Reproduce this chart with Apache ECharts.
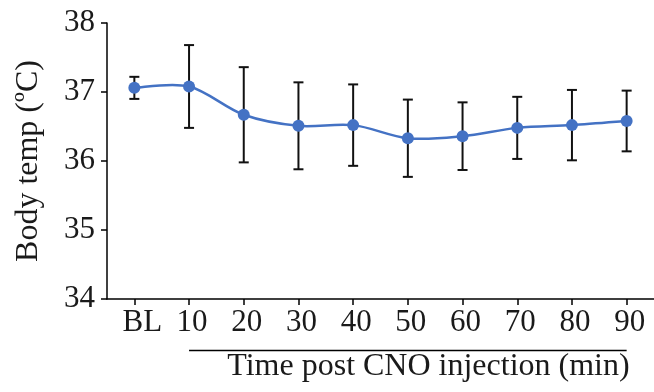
<!DOCTYPE html>
<html>
<head>
<meta charset="utf-8">
<script src="https://cdn.jsdelivr.net/npm/echarts@6/dist/echarts.min.js"></script>
<style>
html,body{margin:0;padding:0;background:#fff;}
#chart{width:654px;height:392px;}
</style>
</head>
<body>
<div id="chart"></div>
<script>
// ---- data ----
const categories = ['BL', '10', '20', '30', '40', '50', '60', '70', '80', '90'];
const meanTemp = [37.06, 37.08, 36.67, 36.51, 36.52, 36.33, 36.36, 36.48, 36.52, 36.58];
const errTemp  = [0.16, 0.60, 0.69, 0.63, 0.59, 0.56, 0.49, 0.45, 0.51, 0.44];
const yTicks = [34, 35, 36, 37, 38];
const yTitle = 'Body temp (\u00BAC)';
const xTitle = 'Time post CNO injection (min)';
const bracketFrom = '10';
const bracketTo = '90';

const FONT = "'Liberation Serif', 'Times New Roman', serif";
const TXT = '#1a1a1a';
const BLUE = '#4472C4';

const chart = echarts.init(document.getElementById('chart'), null, {renderer: 'canvas'});

const errData = categories.map((c, i) => [i, meanTemp[i] - errTemp[i], meanTemp[i] + errTemp[i]]);
const segData = categories.slice(0, -1).map((c, i) => [i, meanTemp[i]]);

const option = {
  animation: false,
  backgroundColor: '#ffffff',
  grid: {left: 107, top: 23, width: 550, bottom: 93, containLabel: false},
  xAxis: {
    type: 'category',
    data: categories,
    boundaryGap: true,
    axisLine: {show: true, lineStyle: {color: '#000', width: 1.5}},
    axisTick: {show: true, alignWithLabel: true, interval: 0, length: 6, lineStyle: {color: '#000', width: 1.5}},
    axisLabel: {
      interval: 0,
      margin: 8,
      fontFamily: FONT, fontSize: 31, color: TXT,
      formatter: v => v === 'BL' ? '{b|' + v + '}' : '{a|' + v + '}',
      rich: {
        a: {fontFamily: FONT, fontSize: 31, color: TXT, padding: [0, 0, 0, 6]},
        b: {fontFamily: FONT, fontSize: 31, color: TXT, padding: [0, 0, 0, 16]}
      }
    },
    splitLine: {show: false}
  },
  yAxis: {
    type: 'value',
    min: yTicks[0], max: yTicks[yTicks.length - 1], interval: 1,
    name: yTitle,
    nameLocation: 'middle',
    nameGap: 62,
    nameRotate: 90,
    nameTextStyle: {fontFamily: FONT, fontSize: 32, color: TXT},
    axisLine: {show: true, lineStyle: {color: '#000', width: 1.5}},
    axisTick: {show: true, length: 6, lineStyle: {color: '#000', width: 1.5}},
    axisLabel: {margin: 12, fontFamily: FONT, fontSize: 31, color: TXT},
    splitLine: {show: false}
  },
  series: [
    {
      type: 'custom',
      z: 2,
      data: errData,
      renderItem: function (params, api) {
        const x = api.value(0);
        const lo = api.coord([x, api.value(1)]);
        const hi = api.coord([x, api.value(2)]);
        const hw = 5;
        const st = {stroke: '#111', lineWidth: 2};
        return {
          type: 'group',
          children: [
            {type: 'line', shape: {x1: hi[0], y1: hi[1], x2: lo[0], y2: lo[1]}, style: st},
            {type: 'line', shape: {x1: hi[0] - hw, y1: hi[1], x2: hi[0] + hw, y2: hi[1]}, style: st},
            {type: 'line', shape: {x1: lo[0] - hw, y1: lo[1], x2: lo[0] + hw, y2: lo[1]}, style: st}
          ]
        };
      }
    },
    {
      // smoothed connecting curve (Catmull-Rom style, like spreadsheet smoothing)
      type: 'custom',
      z: 3,
      data: segData,
      renderItem: function (params, api) {
        const n = meanTemp.length;
        const i = api.value(0);
        const pt = j => api.coord([Math.max(0, Math.min(n - 1, j)), meanTemp[Math.max(0, Math.min(n - 1, j))]]);
        const p0 = pt(i - 1), p1 = pt(i), p2 = pt(i + 1), p3 = pt(i + 2);
        return {
          type: 'bezierCurve',
          shape: {
            x1: p1[0], y1: p1[1], x2: p2[0], y2: p2[1],
            cpx1: p1[0] + (p2[0] - p0[0]) / 6, cpy1: p1[1] + (p2[1] - p0[1]) / 6,
            cpx2: p2[0] - (p3[0] - p1[0]) / 6, cpy2: p2[1] - (p3[1] - p1[1]) / 6
          },
          style: {stroke: BLUE, lineWidth: 2.5, fill: null}
        };
      }
    },
    {
      type: 'line',
      z: 4,
      data: meanTemp,
      symbol: 'circle',
      symbolSize: 12,
      lineStyle: {width: 0, opacity: 0},
      itemStyle: {color: BLUE, borderWidth: 0}
    }
  ]
};
chart.setOption(option);

const xa = chart.convertToPixel({xAxisIndex: 0}, bracketFrom);
const xb = chart.convertToPixel({xAxisIndex: 0}, bracketTo);
const y0 = chart.convertToPixel({yAxisIndex: 0}, yTicks[0]);
chart.setOption({
  graphic: [
    {type: 'line', shape: {x1: xa, y1: y0 + 51.5, x2: xb, y2: y0 + 51.5}, style: {stroke: '#000', lineWidth: 1.5}},
    {type: 'text', x: xb + 3, y: y0 + 68, style: {text: xTitle, fontFamily: FONT, fontSize: 32, fill: TXT, align: 'right', verticalAlign: 'middle'}}
  ]
});
</script>
</body>
</html>
